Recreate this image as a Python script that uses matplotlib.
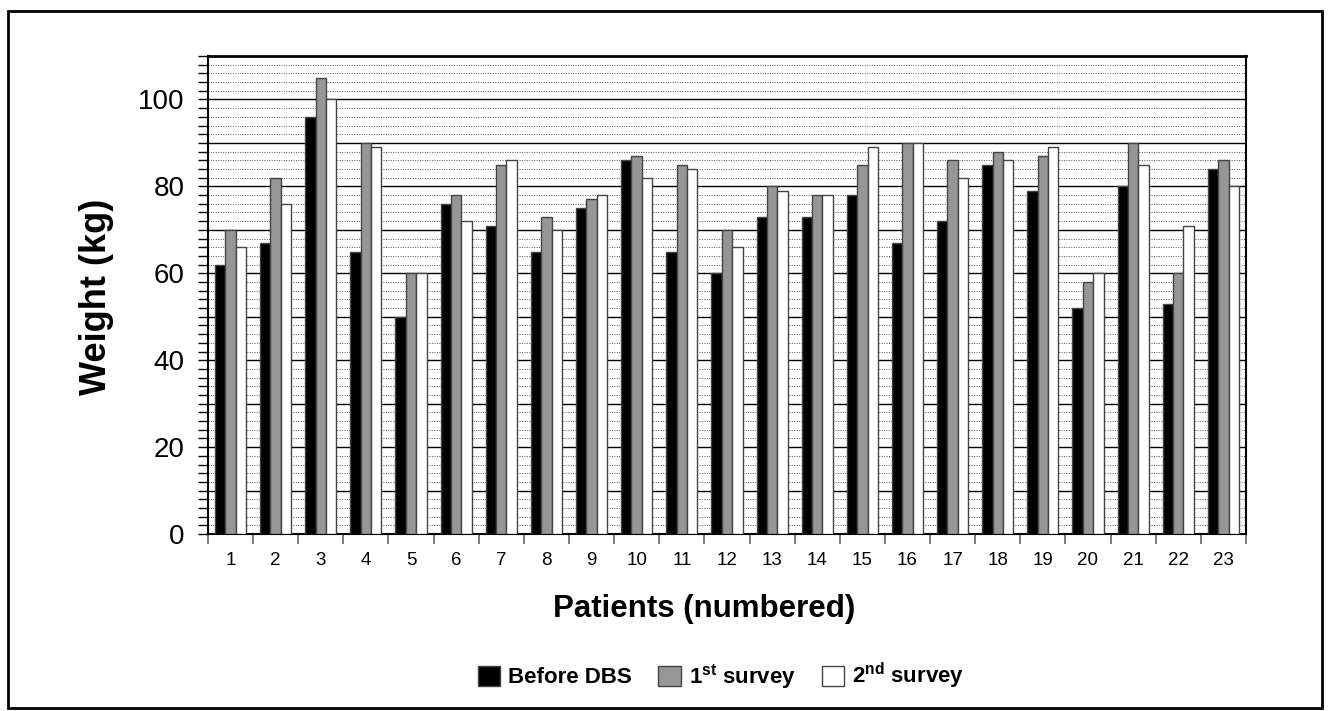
import numpy as np
import matplotlib
matplotlib.use('Agg')
import matplotlib.pyplot as plt
from matplotlib.patches import Rectangle

plt.rcParams['font.family'] = ['Liberation Sans', 'DejaVu Sans']
plt.rcParams['mathtext.fontset'] = 'custom'
plt.rcParams['mathtext.bf'] = 'Liberation Sans:bold'
plt.rcParams['mathtext.rm'] = 'Liberation Sans'

# data
patients = [str(i) for i in range(1, 24)]
before_dbs = [62, 67, 96, 65, 50, 76, 71, 65, 75, 86, 65, 60, 73, 73, 78, 67, 72, 85, 79, 52, 80, 53, 84]
survey_1 = [70, 82, 105, 90, 60, 78, 85, 73, 77, 87, 85, 70, 80, 78, 85, 90, 86, 88, 87, 58, 90, 60, 86]
survey_2 = [66, 76, 100, 89, 60, 72, 86, 70, 78, 82, 84, 66, 79, 78, 89, 90, 82, 86, 89, 60, 85, 71, 80]
series_labels = ['Before DBS', r'1$^{\mathbf{st}}$ survey', r'2$^{\mathbf{nd}}$ survey']

fig = plt.figure(figsize=(13.28, 7.11), dpi=100)
ax = fig.add_axes([0.1566, 0.2489, 0.7816, 0.6723])

x = np.arange(len(patients))
w = 0.23
colors = ['black', '#969696', 'white']
for k, (vals, col, lab) in enumerate(zip([before_dbs, survey_1, survey_2], colors, series_labels)):
    ax.bar(x + (k - 1) * w, vals, width=w, color=col, edgecolor='#444444',
           linewidth=1.0, label=lab, zorder=3)

# gridlines: solid every 10, dotted every 2
for v in range(2, 110, 2):
    if v % 10 == 0:
        ax.axhline(v, color='black', lw=1.0, zorder=1)
    else:
        ax.axhline(v, color='#555555', lw=0.7, ls=(0, (1, 1.5)), zorder=1)

ax.set_ylim(0, 110)
ax.set_xlim(-0.5, len(patients) - 0.5)
ax.set_yticks(range(0, 101, 20))
ax.set_yticks(range(0, 111, 2), minor=True)
ax.tick_params(axis='y', which='both', direction='out', length=7, width=1.0, labelsize=20, pad=10)
ax.set_xticks(x)
ax.set_xticklabels(patients)
ax.set_xticks(np.arange(-0.5, len(patients), 1), minor=True)
ax.tick_params(axis='x', which='major', length=0, labelsize=13.5, pad=13)
ax.tick_params(axis='x', which='minor', length=7, width=1.2, color='#666666')
for s in ax.spines.values():
    s.set_linewidth(1.5)
    s.set_color('black')
ax.spines['top'].set_linewidth(2)

fig.text(0.0723, 0.582, 'Weight (kg)', rotation=90, ha='center', va='center',
         fontsize=26, fontweight='bold')
fig.text(0.530, 0.143, 'Patients (numbered)', ha='center', va='center',
         fontsize=22.5, fontweight='bold')

leg = fig.legend(loc='center', bbox_to_anchor=(0.543, 0.049), ncol=3, frameon=False,
                 prop={'weight': 'bold', 'size': 16}, handlelength=1.0, handleheight=1.0,
                 handletextpad=0.36, columnspacing=1.2, borderpad=0)

fig.patches.append(Rectangle((8 / 1328, 3 / 711), 1314 / 1328, 697 / 711,
                             transform=fig.transFigure, fill=False,
                             edgecolor='black', linewidth=2))

fig.savefig('out.png', dpi=100)
